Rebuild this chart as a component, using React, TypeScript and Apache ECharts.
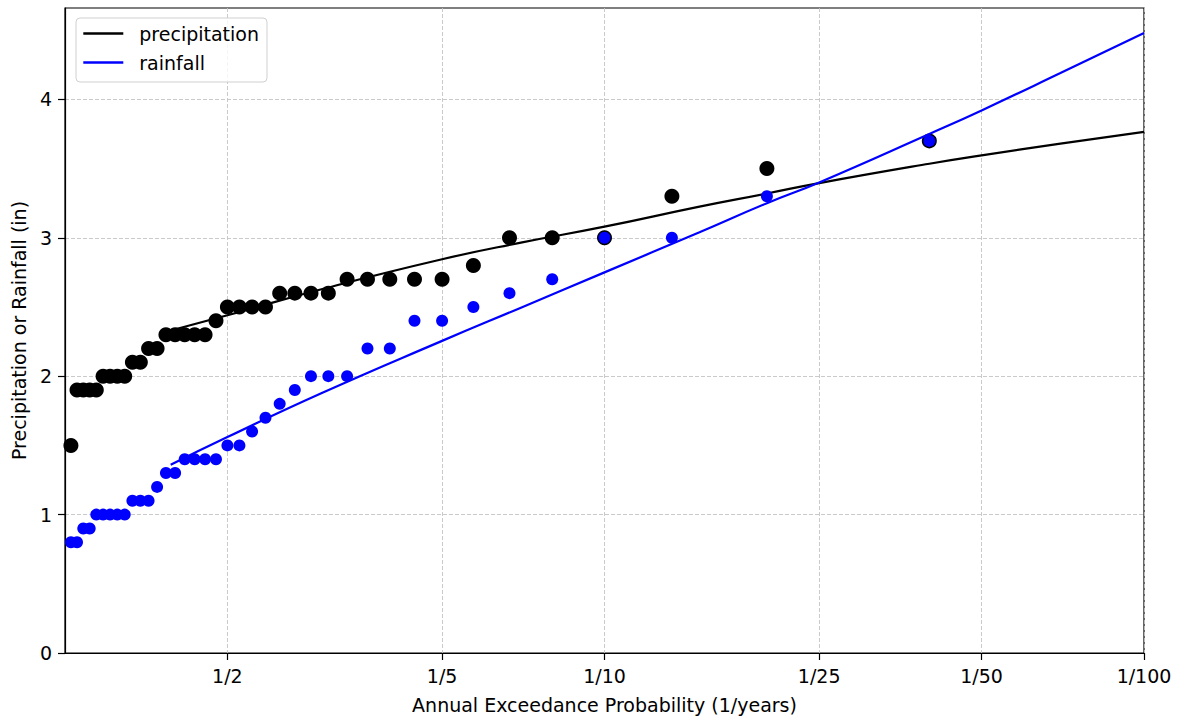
import React, { useEffect, useRef } from "react";
import * as echarts from "echarts";

// Plotting positions (return period, years) of the ranked annual maxima
const returnPeriods = [
  1.0256, 1.0526, 1.0811, 1.1111, 1.1429, 1.1765, 1.2121, 1.25, 1.2903, 1.3333,
  1.3793, 1.4286, 1.4815, 1.5385, 1.6, 1.6667, 1.7391, 1.8182, 1.9048, 2,
  2.1053, 2.2222, 2.3529, 2.5, 2.6667, 2.8571, 3.0769, 3.3333, 3.6364, 4,
  4.4444, 5, 5.7143, 6.6667, 8, 10, 13.3333, 20, 40,
];

const precipitation = [
  1.5, 1.9, 1.9, 1.9, 1.9, 2.0, 2.0, 2.0, 2.0, 2.1,
  2.1, 2.2, 2.2, 2.3, 2.3, 2.3, 2.3, 2.3, 2.4, 2.5,
  2.5, 2.5, 2.5, 2.6, 2.6, 2.6, 2.6, 2.7, 2.7, 2.7,
  2.7, 2.7, 2.8, 3.0, 3.0, 3.0, 3.3, 3.5, 3.7,
];

const rainfall = [
  0.8, 0.8, 0.9, 0.9, 1.0, 1.0, 1.0, 1.0, 1.0, 1.1,
  1.1, 1.1, 1.2, 1.3, 1.3, 1.4, 1.4, 1.4, 1.4, 1.5,
  1.5, 1.6, 1.7, 1.8, 1.9, 2.0, 2.0, 2.0, 2.2, 2.2,
  2.4, 2.4, 2.5, 2.6, 2.7, 3.0, 3.0, 3.3, 3.7,
];

// Fitted frequency curves
const fitReturnPeriods = [1.57, 2, 3, 5, 7, 10, 15, 20, 25, 40, 50, 70, 100];
const precipitationFit = [2.33, 2.44, 2.63, 2.845, 2.965, 3.08, 3.225, 3.32, 3.395, 3.535, 3.595, 3.68, 3.765];
const rainfallFit = [1.36, 1.56, 1.88, 2.255, 2.495, 2.75, 3.04, 3.25, 3.4, 3.75, 3.92, 4.19, 4.48];

const xTickValues = [2, 5, 10, 25, 50, 100];
const yTickValues = [0, 1, 2, 3, 4];

const zip = (xs: number[], ys: number[]) => xs.map((x, i) => [x, ys[i]]);

export default function App() {
  const ref = useRef<HTMLDivElement>(null);

  useEffect(() => {
    document.body.style.margin = "0";
    const chart = echarts.init(ref.current as HTMLDivElement, null, { renderer: "svg" });
    const font = "DejaVu Sans";
    const gridLine = {
      show: true,
      lineStyle: { color: "#c4c4c4", width: 0.9, type: [4, 2] },
    };
    const textBase = { fontFamily: font, fontSize: 19, color: "#000" };

    chart.setOption({
      animation: false,
      textStyle: { fontFamily: font },
      grid: {
        left: 65,
        right: 33,
        top: 8,
        bottom: 64,
        show: true,
        borderColor: "#000",
        borderWidth: 1.2,
        backgroundColor: "transparent",
        outerBoundsMode: "none",
      },
      legend: {
        orient: "vertical",
        left: 76,
        top: 18,
        itemWidth: 40,
        itemHeight: 14,
        itemGap: 10,
        padding: [6, 8, 10, 6],
        backgroundColor: "rgba(255,255,255,0.8)",
        borderColor: "#d0d0d0",
        borderWidth: 1,
        borderRadius: 4,
        itemStyle: { opacity: 0 },
        lineStyle: { width: 2.6 },
        textStyle: { ...textBase, padding: [0, 0, 0, 11] },
        data: ["precipitation", "rainfall"],
      },
      xAxis: {
        type: "log",
        logBase: 10,
        min: 1,
        max: 100,
        name: "Annual Exceedance Probability (1/years)",
        nameLocation: "middle",
        nameGap: 42,
        nameTextStyle: textBase,
        axisLine: { show: true, onZero: false, lineStyle: { color: "#000", width: 1.2 } },
        axisTick: { show: true, length: 7, customValues: xTickValues, lineStyle: { color: "#000", width: 1.2 } },
        axisLabel: {
          ...textBase,
          customValues: xTickValues,
          margin: 13,
          formatter: (v: number) => "1/" + Math.round(v),
        },
        splitLine: gridLine,
        minorTick: { show: false },
        minorSplitLine: { show: false },
      },
      yAxis: {
        type: "value",
        min: 0,
        max: 4.66,
        interval: 1,
        name: "Precipitation or Rainfall (in)",
        nameLocation: "middle",
        nameGap: 37,
        nameTextStyle: textBase,
        axisLine: { show: true, lineStyle: { color: "#000", width: 1.2 } },
        axisTick: { show: true, length: 7, customValues: yTickValues, lineStyle: { color: "#000", width: 1.2 } },
        axisLabel: { ...textBase, customValues: yTickValues, margin: 13 },
        splitLine: gridLine,
      },
      series: [
        {
          name: "precipitation data",
          type: "scatter",
          data: zip(returnPeriods, precipitation),
          symbol: "circle",
          symbolSize: 15,
          itemStyle: { color: "#000000", opacity: 1 },
          z: 2,
        },
        {
          name: "precipitation",
          type: "line",
          data: zip(fitReturnPeriods, precipitationFit),
          symbol: "none",
          smooth: true,
          lineStyle: { color: "#000000", width: 2.2 },
          itemStyle: { color: "#000000" },
          z: 3,
        },
        {
          name: "rainfall data",
          type: "scatter",
          data: zip(returnPeriods, rainfall),
          symbol: "circle",
          symbolSize: 12,
          itemStyle: { color: "#0000ff", opacity: 1 },
          z: 4,
        },
        {
          name: "rainfall",
          type: "line",
          data: zip(fitReturnPeriods, rainfallFit),
          symbol: "none",
          smooth: true,
          lineStyle: { color: "#0000ff", width: 2.2 },
          itemStyle: { color: "#0000ff" },
          z: 5,
        },
      ],
    });

    return () => chart.dispose();
  }, []);

  return <div ref={ref} style={{ width: 1177, height: 717 }} />;
}
